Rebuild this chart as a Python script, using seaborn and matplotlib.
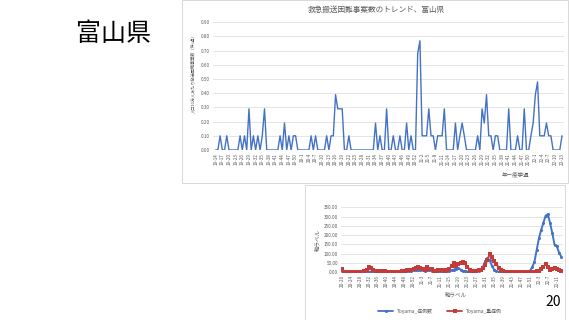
import numpy as np
import pandas as pd
import matplotlib
matplotlib.use("Agg")
import matplotlib.pyplot as plt
import seaborn as sns
from matplotlib.patches import Rectangle
from matplotlib.lines import Line2D

sns.set_style("white")
plt.rcParams["font.family"] = ["Noto Sans CJK JP", "DejaVu Sans"]

# ---------------- data: top chart (per 100k, weekly) ----------------
top_years = [19] * 39 + [20] * 53 + [21] * 52 + [22] * 13
top_weeks = list(range(14, 53)) + list(range(1, 54)) + list(range(1, 53)) + list(range(1, 14))
top_labels = [f"{y}-{w}" for y, w in zip(top_years, top_weeks)]
top_values = [
    0, 0, 0.10, 0, 0, 0.10, 0, 0, 0, 0,
    0, 0.10, 0, 0.10, 0, 0.29, 0, 0.10, 0, 0.10,
    0, 0.10, 0.29, 0, 0, 0, 0, 0, 0, 0.10,
    0, 0.19, 0, 0.10, 0, 0.10, 0.10, 0, 0, 0,
    0, 0, 0, 0.10, 0, 0.10, 0, 0, 0, 0,
    0.10, 0, 0.10, 0.10, 0.39, 0.29, 0.29, 0.29, 0, 0,
    0.10, 0, 0, 0, 0, 0, 0, 0, 0, 0,
    0, 0, 0.19, 0, 0.10, 0, 0, 0.29, 0, 0,
    0.10, 0, 0, 0.10, 0, 0, 0.19, 0, 0.10, 0,
    0, 0.68, 0.77, 0.10, 0.10, 0.10, 0.29, 0.10, 0.10, 0,
    0.10, 0.10, 0.10, 0.29, 0, 0, 0, 0, 0.19, 0,
    0.10, 0.19, 0.10, 0, 0, 0, 0, 0, 0.10, 0,
    0.29, 0.19, 0.39, 0.10, 0.10, 0, 0.10, 0.10, 0, 0,
    0, 0, 0.29, 0, 0, 0, 0.10, 0, 0, 0.29,
    0, 0, 0.10, 0.19, 0.39, 0.48, 0.10, 0.10, 0.10, 0.19,
    0.10, 0.10, 0, 0, 0, 0, 0.10,
]
top_yticks = [0.0, 0.1, 0.2, 0.3, 0.4, 0.5, 0.6, 0.7, 0.8, 0.9]

# ---------------- data: bottom chart ----------------
bot_years = [20] * 34 + [21] * 52 + [22] * 13
bot_weeks = list(range(20, 54)) + list(range(1, 53)) + list(range(1, 14))
bot_labels = [f"{y}-{w}" for y, w in zip(bot_years, bot_weeks)]
cases = [
    8, 2, 1, 1, 1, 1, 1, 1, 1, 1,
    1, 2, 3, 3, 2, 1, 1, 1, 1, 1,
    1, 1, 1, 1, 1, 1, 2, 2, 3, 5,
    6, 8, 10, 12, 15, 12, 10, 8, 10, 12,
    8, 5, 4, 3, 3, 4, 5, 6, 8, 10,
    15, 20, 22, 15, 8, 5, 4, 3, 3, 3,
    4, 6, 10, 30, 60, 75, 65, 35, 15, 6,
    3, 2, 2, 2, 2, 2, 2, 2, 2, 2,
    2, 2, 2, 3, 9, 27, 57, 120, 183, 228,
    267, 305, 312, 264, 210, 147, 140, 106, 84,
]
severe = [
    16, 4, 2, 2, 2, 2, 2, 2, 3, 3,
    5, 10, 27, 22, 15, 8, 5, 4, 8, 6,
    4, 3, 3, 3, 3, 3, 4, 6, 8, 10,
    12, 15, 20, 24, 27, 22, 18, 15, 27, 20,
    18, 8, 5, 10, 14, 12, 8, 12, 20, 35,
    48, 35, 45, 50, 57, 48, 30, 15, 8, 6,
    8, 10, 15, 22, 40, 66, 99, 80, 63, 45,
    25, 12, 6, 4, 3, 3, 3, 3, 3, 3,
    3, 3, 3, 3, 3, 3, 3, 5, 8, 20,
    30, 45, 30, 12, 20, 22, 18, 10, 7,
]
bot_yticks = [0, 50, 100, 150, 200, 250, 300, 350]
series_names = ["Toyama_症例数", "Toyama_重症例"]

BLUE = "#4472C4"
RED = "#C43B3B"
GRID = "#D9D9D9"
TXT = "#595959"

W, H = 569, 320
fig = plt.figure(figsize=(W / 100, H / 100), dpi=100)
fig.patch.set_facecolor("white")


def fx(px):
    return px / W


def fy(py):
    return 1 - py / H


# panel frames
fig.patches.append(Rectangle((fx(182), fy(183)), fx(568 - 182), 183 / H,
                             transform=fig.transFigure, fill=False, ec=GRID, lw=0.7))
fig.patches.append(Rectangle((fx(305), fy(319.5)), fx(565 - 305), (319.5 - 185) / H,
                             transform=fig.transFigure, fill=False, ec=GRID, lw=0.7))

# slide title
fig.text(fx(114), fy(34), "富山県", ha="center", va="center", fontsize=18, color="black")
fig.text(fx(553), fy(302), "20", ha="center", va="center", fontsize=10, color="black")

# ---------------- top chart ----------------
ax1 = fig.add_axes([fx(213), fy(150), fx(564 - 213), (150 - 22.3) / H])
df_top = pd.DataFrame({"i": np.arange(len(top_values)), "v": top_values})
sns.lineplot(data=df_top, x="i", y="v", ax=ax1, color=BLUE, lw=1.0)
ax1.set_xlim(-1.2, 156.9)
ax1.set_ylim(0, 0.9)
ax1.set_yticks(top_yticks)
ax1.set_yticklabels([f"{v:.2f}" for v in top_yticks])
ax1.set_xticks(range(0, len(top_labels), 3))
ax1.set_xticklabels(top_labels[::3], rotation=90)
ax1.tick_params(axis="both", length=0, labelsize=3.3, colors=TXT, pad=2)
ax1.grid(axis="y", color=GRID, lw=0.5)
ax1.grid(axis="x", visible=False)
for s in ax1.spines.values():
    s.set_visible(False)
ax1.set_xlabel("")
ax1.set_ylabel("")
ax1.set_facecolor("none")
fig.text(fx(376), fy(10), "救急搬送困難事案数のトレンド、富山県", ha="center", va="center",
         fontsize=5.5, color=TXT)
fig.text(fx(193), fy(73), "人口10万人あたり搬送困難事案数（件/週）", ha="center", va="center",
         rotation=90, fontsize=3.0, color=TXT)
fig.text(fx(516), fy(175), "年ー疫学週", ha="center", va="center", fontsize=4, color=TXT)

# ---------------- bottom chart ----------------
ax2 = fig.add_axes([fx(341), fy(272.3), fx(563 - 341), (272.3 - 207.3) / H])
df_bot = pd.DataFrame({
    "i": list(range(len(cases))) * 2,
    "v": cases + severe,
    "s": [series_names[0]] * len(cases) + [series_names[1]] * len(severe),
})
sns.lineplot(data=df_bot, x="i", y="v", hue="s", style="s",
             palette={series_names[0]: BLUE, series_names[1]: RED},
             markers={series_names[0]: "o", series_names[1]: "s"}, dashes=False,
             markersize=2.2, markeredgewidth=0, lw=1.4, ax=ax2, legend=False)
ax2.set_xlim(-0.45, 98.76)
ax2.set_ylim(0, 350)
ax2.set_yticks(bot_yticks)
ax2.set_yticklabels([f"{v:.2f}" for v in bot_yticks])
ax2.set_xticks(range(0, len(bot_labels), 4))
ax2.set_xticklabels(bot_labels[::4], rotation=90)
ax2.tick_params(axis="both", length=0, labelsize=3.3, colors=TXT, pad=2)
ax2.grid(axis="y", color=GRID, lw=0.5)
ax2.grid(axis="x", visible=False)
for s in ax2.spines.values():
    s.set_visible(False)
ax2.set_xlabel("")
ax2.set_ylabel("")
ax2.set_facecolor("none")
fig.text(fx(318), fy(240), "軸ラベル", ha="center", va="center", rotation=90,
         fontsize=4, color=TXT)
fig.text(fx(456), fy(295), "軸ラベル", ha="center", va="center", fontsize=4, color=TXT)

handles = [Line2D([], [], color=BLUE, lw=1.3, marker="o", markersize=2.2, markeredgewidth=0),
           Line2D([], [], color=RED, lw=1.3, marker="s", markersize=2.2, markeredgewidth=0)]
fig.legend(handles, series_names, loc="center", bbox_to_anchor=(fx(440), fy(311)),
           ncol=2, frameon=False, fontsize=3.5, handlelength=3, columnspacing=3,
           labelcolor=TXT)

fig.savefig("out.png", dpi=100, facecolor="white")
